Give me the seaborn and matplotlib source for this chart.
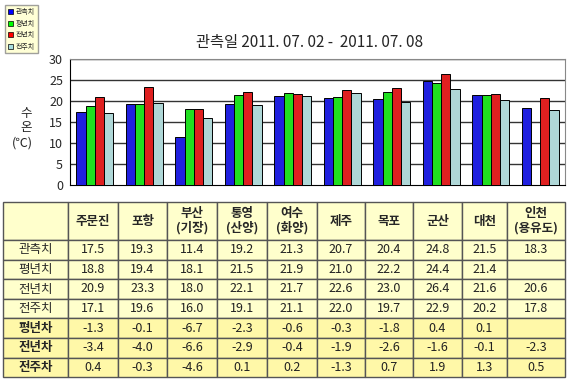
import matplotlib
matplotlib.use("Agg")
from matplotlib import pyplot as plt
from matplotlib.patches import Rectangle
import pandas as pd
import numpy as np
import seaborn as sns

# * data
stations = ["주문진", "포항", "부산\n(기장)", "통영\n(산양)", "여수\n(화양)",
            "제주", "목포", "군산", "대천", "인천\n(용유도)"]
series_names = ["관측치", "평년치", "전년치", "전주치"]
observed = [17.5, 19.3, 11.4, 19.2, 21.3, 20.7, 20.4, 24.8, 21.5, 18.3]
normal = [18.8, 19.4, 18.1, 21.5, 21.9, 21.0, 22.2, 24.4, 21.4, np.nan]
last_year = [20.9, 23.3, 18.0, 22.1, 21.7, 22.6, 23.0, 26.4, 21.6, 20.6]
last_week = [17.1, 19.6, 16.0, 19.1, 21.1, 22.0, 19.7, 22.9, 20.2, 17.8]
diff_normal = ["-1.3", "-0.1", "-6.7", "-2.3", "-0.6", "-0.3", "-1.8", "0.4", "0.1", ""]
diff_year = ["-3.4", "-4.0", "-6.6", "-2.9", "-0.4", "-1.9", "-2.6", "-1.6", "-0.1", "-2.3"]
diff_week = ["0.4", "-0.3", "-4.6", "0.1", "0.2", "-1.3", "0.7", "1.9", "1.3", "0.5"]
diff_names = ["평년차", "전년차", "전주차"]
colors = ["#0000FF", "#00FF00", "#FF0000", "#A8DEDE"]

# * long-form frame for seaborn
rows = []
for name, vals in zip(series_names, [observed, normal, last_year, last_week]):
    for st, v in zip(stations, vals):
        rows.append({"station": st, "series": name, "value": v})
df = pd.DataFrame(rows)

sns.set_style("white")
plt.rcParams["font.family"] = ["Noto Sans CJK KR", "DejaVu Sans"]

W, H = 567, 379
fig = plt.figure(figsize=(W / 100, H / 100), dpi=100)

# * bar chart area (pixel box -> figure fraction)
left, right, top, bottom = 70, 565, 59, 185
ax = fig.add_axes([left / W, 1 - bottom / H, (right - left) / W, (bottom - top) / H])
sns.barplot(data=df, x="station", y="value", hue="series", order=stations,
            hue_order=series_names, palette=colors, width=0.74, gap=0,
            edgecolor="black", linewidth=0.7, errorbar=None, ax=ax, zorder=3)
ax.set_ylim(0, 30)
ax.set_yticks(range(0, 31, 5))
ax.set_xlim(-0.5, len(stations) - 0.5)
ax.set_xticks([])
ax.set_xlabel("")
ax.set_ylabel("")
for y in range(5, 31, 5):
    ax.axhline(y, color="#333333", lw=1, zorder=1)
ax.tick_params(axis="y", labelsize=9, length=3, pad=2)
for s in ["top", "right"]:
    ax.spines[s].set_color("#888888")
for s in ["left", "bottom"]:
    ax.spines[s].set_color("black")
ax.legend_.remove()

fig.text(310 / W, 1 - 43 / H, "관측일 2011. 07. 02 -  2011. 07. 08", ha="center",
         va="center", fontsize=11)
fig.text(26 / W, 1 - 113 / H, "수", ha="center", va="center", fontsize=9)
fig.text(26 / W, 1 - 128 / H, "온", ha="center", va="center", fontsize=9)
fig.text(22 / W, 1 - 143 / H, "(℃)", ha="center", va="center", fontsize=9)

# * legend
handles = [Rectangle((0, 0), 1, 1, fc=c, ec="black", lw=0.5) for c in colors]
fig.legend(handles, series_names, loc="upper left", bbox_to_anchor=(2 / W, 1 - 2 / H),
           fontsize=5, frameon=True, facecolor="#FFFFCC", edgecolor="#888888",
           fancybox=False, handlelength=0.7, handleheight=0.7, handletextpad=0.4,
           borderpad=0.4, labelspacing=0.5)

# * table below
tax = fig.add_axes([0, 0, 1, 1])
tax.set_xlim(0, W)
tax.set_ylim(H, 0)
tax.axis("off")
col_x = [3, 68, 118, 167, 217, 267, 317, 365, 413, 462, 507, 565]
row_y = [202, 240, 259.6, 279.2, 298.8, 318.4, 338, 357.6, 377]

fmt = lambda v: "" if np.isnan(v) else f"{v:.1f}"
table_rows = [[fmt(v) for v in observed], [fmt(v) for v in normal],
              [fmt(v) for v in last_year], [fmt(v) for v in last_week],
              diff_normal, diff_year, diff_week]
row_labels = series_names + diff_names

for r in range(len(row_y) - 1):
    bg = "#FFF8A8" if r >= 5 else "#FFFFCC"
    for c in range(len(col_x) - 1):
        tax.add_patch(Rectangle((col_x[c], row_y[r]), col_x[c + 1] - col_x[c],
                                row_y[r + 1] - row_y[r], fc=bg, ec="#555555", lw=1))
        xc = (col_x[c] + col_x[c + 1]) / 2
        yc = (row_y[r] + row_y[r + 1]) / 2
        if r == 0:
            txt = "" if c == 0 else stations[c - 1]
            tax.text(xc, yc, txt, ha="center", va="center", fontsize=9,
                     fontweight="bold", linespacing=1.1)
        elif c == 0:
            bold = "bold" if r >= 5 else "normal"
            tax.text(xc, yc, row_labels[r - 1], ha="center", va="center",
                     fontsize=9, fontweight=bold)
        else:
            tax.text(xc, yc, table_rows[r - 1][c - 1], ha="center", va="center",
                     fontsize=9, color="#222222")

fig.savefig("out.png", dpi=100)
